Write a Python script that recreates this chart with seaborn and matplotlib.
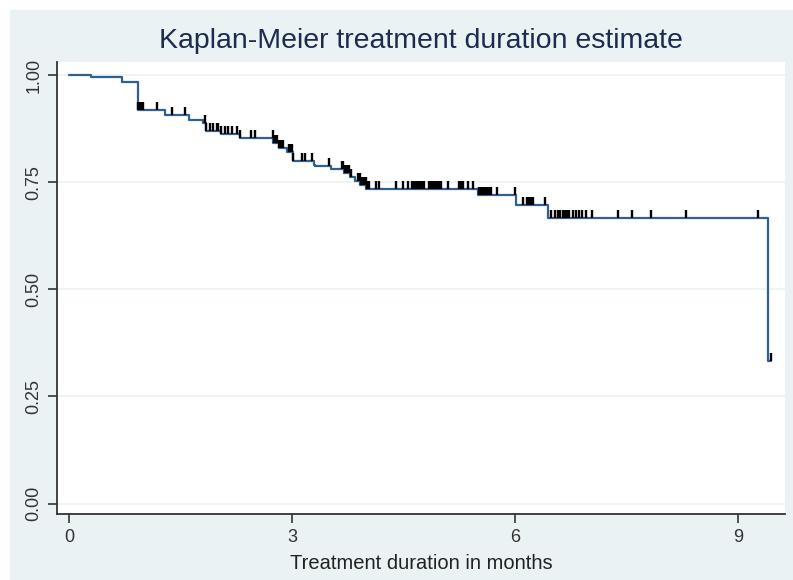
import seaborn as sns
import matplotlib.pyplot as plt
import matplotlib.patches as mpatches
from matplotlib.path import Path
import pandas as pd
import numpy as np

# Estimacion Kaplan-Meier (tiempo en meses, supervivencia despues del evento)
event_times = [0.00, 0.30, 0.72, 0.93, 1.29, 1.62, 1.80, 1.85, 2.05, 2.30, 2.75, 2.82,
               2.93, 3.01, 3.29, 3.31, 3.52, 3.70, 3.78, 3.85, 3.92, 4.00, 5.50, 6.02,
               6.44, 9.40]
survival = [1.000, 0.995, 0.983, 0.919, 0.907, 0.895, 0.888, 0.870, 0.863, 0.853, 0.842, 0.830,
            0.820, 0.800, 0.791, 0.788, 0.781, 0.772, 0.763, 0.752, 0.743, 0.733, 0.719, 0.696,
            0.667, 0.333]
last_followup = 9.45

# Tiempos censurados
censor_times = [0.93, 0.95, 0.97, 0.99, 1.18, 1.39, 1.56,
                1.83, 1.85, 1.90, 1.94, 1.99, 2.01, 2.05, 2.10, 2.14, 2.19, 2.26, 2.30,
                2.45, 2.50,
                2.74, 2.76, 2.78, 2.80, 2.82, 2.85, 2.88,
                2.96, 2.98, 3.00, 3.02, 3.13, 3.18, 3.27, 3.50,
                3.67, 3.69, 3.71, 3.73, 3.75, 3.77, 3.80,
                3.89, 3.91, 3.93, 3.95, 3.97, 3.99, 4.01, 4.04,
                4.13, 4.17, 4.40, 4.50, 4.56,
                4.62, 4.64, 4.66, 4.68, 4.70, 4.72, 4.74, 4.76, 4.78,
                4.84, 4.86, 4.88, 4.90, 4.92, 4.94, 4.96, 4.98, 5.01,
                5.10, 5.25, 5.28, 5.30, 5.37, 5.44,
                5.52, 5.54, 5.56, 5.58, 5.60, 5.62, 5.64, 5.66, 5.68,
                5.76, 6.00, 6.11, 6.16, 6.18, 6.20, 6.22, 6.24, 6.41,
                6.49, 6.54, 6.58, 6.61, 6.64, 6.67, 6.70, 6.73, 6.78, 6.82, 6.86, 6.90, 6.95, 7.04,
                7.38, 7.57, 7.83, 8.30, 9.27, 9.45]

x_ticks = [0, 3, 6, 9]
y_ticks = [0.00, 0.25, 0.50, 0.75, 1.00]

bg = '#EAF2F3'
line_color = '#2f6090'
title_color = '#1e2b50'

sns.set_style('white')
plt.rcParams['font.family'] = ['Liberation Sans', 'DejaVu Sans']

df = pd.DataFrame({'t': event_times + [last_followup],
                   's': survival + [survival[-1]]})

idx = np.searchsorted(event_times, censor_times, side='right') - 1
df_cens = pd.DataFrame({'t': censor_times, 's': np.array(survival)[idx]})

fig = plt.figure(figsize=(7.93, 5.80), dpi=100)
fondo = mpatches.Rectangle((10 / 793, 0), 1, 1 - 10 / 580,
                           transform=fig.transFigure, color=bg, zorder=-5)
fig.add_artist(fondo)
ax = fig.add_axes([57 / 793, 1 - 514 / 580, 728 / 793, 452 / 580])
ax.set_zorder(2)
ax.set_facecolor('white')

# Lineas de referencia horizontales
for yv in y_ticks:
    ax.axhline(yv, color=bg, linewidth=1.2, zorder=1)

sns.lineplot(data=df, x='t', y='s', drawstyle='steps-post', color=line_color,
             linewidth=1.6, ax=ax, zorder=3)

# Marcas de censura hacia arriba
tick_mark = Path([(0, 0), (0, 1)], [Path.MOVETO, Path.LINETO])
ax.plot(df_cens['t'], df_cens['s'], linestyle='none', marker=tick_mark,
        markersize=11, markeredgewidth=1.7, color='black', zorder=4)

ax.set_xlim(-0.161, 9.633)
ax.set_ylim(-0.0245, 1.0303)
ax.set_xticks(x_ticks)
ax.set_xticklabels([str(v) for v in x_ticks])
ax.set_yticks(y_ticks)
ax.set_yticklabels([f'{v:.2f}' for v in y_ticks], rotation=90, va='center')

for side in ['top', 'right']:
    ax.spines[side].set_visible(False)
for side in ['left', 'bottom']:
    ax.spines[side].set_color('#333333')
    ax.spines[side].set_linewidth(1.3)

ax.tick_params(axis='both', length=6.5, width=1.2, color='#333333',
               labelsize=13, labelcolor='#333333', direction='out', bottom=True, left=True)
ax.tick_params(axis='x', pad=4)
ax.tick_params(axis='y', pad=4)

ax.set_xlabel('Treatment duration in months', fontsize=14.5, color='#222222', labelpad=6)
ax.set_ylabel('')

fig.text(421 / 793, 1 - 41 / 580, 'Kaplan-Meier treatment duration estimate',
         ha='center', va='center', fontsize=20.5, color=title_color, zorder=3)

fig.savefig('out.png', dpi=100)
plt.close(fig)
